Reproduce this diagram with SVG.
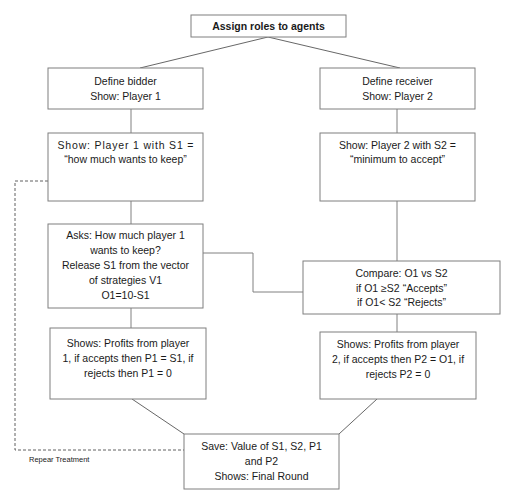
<svg xmlns="http://www.w3.org/2000/svg" width="522" height="492" viewBox="0 0 522 492">
<style>
.box{fill:#fff;stroke:#7f7f7f;stroke-width:1}
.t{font-family:"Liberation Sans",Arial,sans-serif;font-size:10.5px;fill:#1a1a1a;text-anchor:middle}
.b{font-weight:bold}
.c{fill:none;stroke:#404040;stroke-width:0.8}
.g{fill:none;stroke:#808080;stroke-width:1}
.d{fill:none;stroke:#606060;stroke-width:1;stroke-dasharray:3,2}
.s{font-family:"Liberation Sans",Arial,sans-serif;font-size:7.5px;fill:#1a1a1a}
</style>
<rect width="522" height="492" fill="#fff"/>
<g id="connectors">
<path class="c" d="M268,37 L140,68 M268,37 L400,68"/>
<path class="g" d="M131,109 V133 M397,109 V133 M131,201 V224 M397,201 V261 M203,253 H253 V292 H303 M131,308 V328 M397,314 V332"/>
<path class="c" d="M132,399 L184,434 M377,399 L339,434"/>
<path class="d" d="M48,181 H15 V450 H184"/>
</g>
<g id="assign"><rect class="box" x="191" y="15" width="155" height="22"/><text class="t b" x="268.5" y="30">Assign roles to agents</text></g>
<g id="bidder"><rect class="box" x="48" y="68" width="155" height="41"/><text class="t" x="125.5" y="85">Define bidder</text><text class="t" x="125.5" y="100">Show: Player 1</text></g>
<g id="receiver"><rect class="box" x="320" y="68" width="155" height="41"/><text class="t" x="397.5" y="85">Define receiver</text><text class="t" x="397.5" y="100">Show: Player 2</text></g>
<g id="show1"><rect class="box" x="48" y="133" width="155" height="68"/><text class="t" x="125.5" y="149" textLength="136" lengthAdjust="spacing">Show:  Player  1  with  S1  =</text><text class="t" x="125.5" y="163">“how much wants to keep”</text></g>
<g id="show2"><rect class="box" x="320" y="133" width="155" height="68"/><text class="t" x="397.5" y="149">Show:  Player 2 with S2 =</text><text class="t" x="397.5" y="163">“minimum to accept”</text></g>
<g id="asks"><rect class="box" x="48" y="224" width="155" height="84"/><text class="t" x="125.5" y="239">Asks: How much player 1</text><text class="t" x="125.5" y="254">wants to keep?</text><text class="t" x="125.5" y="269">Release S1 from the vector</text><text class="t" x="125.5" y="284">of strategies V1</text><text class="t" x="125.5" y="299">O1=10-S1</text></g>
<g id="compare"><rect class="box" x="303" y="261" width="197" height="53"/><text class="t" x="401.5" y="277">Compare: O1 vs S2</text><text class="t" x="401.5" y="292">if O1 ≥S2 “Accepts”</text><text class="t" x="401.5" y="306">if O1&lt; S2 “Rejects”</text></g>
<g id="profits1"><rect class="box" x="50" y="328" width="156" height="71"/><text class="t" x="128" y="347">Shows: Profits from player</text><text class="t" x="128" y="362">1, if accepts then P1 = S1, if</text><text class="t" x="128" y="377">rejects then P1 = 0</text></g>
<g id="profits2"><rect class="box" x="320" y="332" width="156" height="67"/><text class="t" x="398" y="348">Shows: Profits from player</text><text class="t" x="398" y="363">2, if accepts then P2 = O1, if</text><text class="t" x="398" y="378">rejects P2 = 0</text></g>
<g id="save"><rect class="box" x="184" y="434" width="155" height="55"/><text class="t" x="261.5" y="450">Save: Value of S1, S2, P1</text><text class="t" x="261.5" y="465">and P2</text><text class="t" x="261.5" y="480">Shows: Final Round</text></g>
<text class="s" x="29" y="462">Repear Treatment</text>
</svg>
